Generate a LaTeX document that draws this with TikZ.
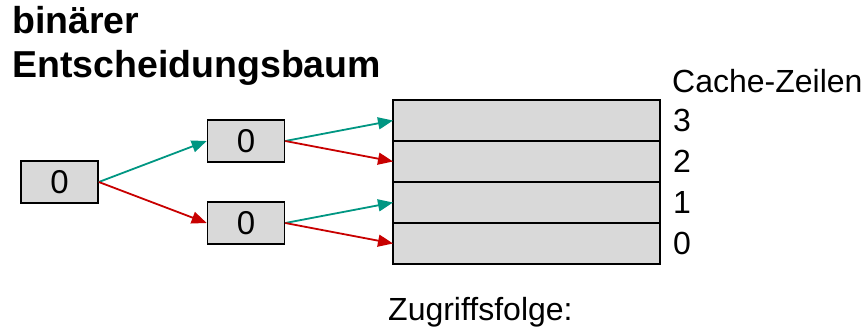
\documentclass[tikz,border=0pt]{standalone}
\usepackage{fontspec}
\setmainfont{Liberation Sans}
\usepackage{tikz}
\usetikzlibrary{arrows.meta,positioning}
\usepackage{xcolor}
\definecolor{dtteal}{RGB}{0,150,130}
\definecolor{dtred}{RGB}{200,0,0}
\definecolor{dtgrey}{RGB}{217,217,217}
\tikzstyle{bit} = [rectangle, minimum width=77pt, minimum height=42pt, inner sep=0pt, text centered, draw=black, fill=dtgrey, line width=1.6pt, font=\fontsize{33}{33}\selectfont]
\tikzstyle{cacheline} = [rectangle, minimum width=267pt, minimum height=41pt, inner sep=0pt, outer sep=0pt, draw=black, fill=dtgrey, line width=1.6pt]
\tikzstyle{txt} = [inner sep=0pt, anchor=base west, font=\fontsize{32}{32}\selectfont]
\tikzstyle{title} = [inner sep=0pt, anchor=base west, font=\bfseries\fontsize{37.5}{37.5}\selectfont]
\tikzstyle{left0} = [line width=1.8pt,-{Triangle[length=15pt,width=12pt]},color=dtteal]
\tikzstyle{right1} = [line width=1.8pt,-{Triangle[length=15pt,width=12pt]},color=dtred]

\begin{document}
\begin{tikzpicture}[x=1pt, y=-1pt]
\useasboundingbox (0,0) rectangle (866,327);
% Heading
\node (head1) [title] at (12,33) {binärer};
\node (head2) [title] at (12,77) {Entscheidungsbaum};

% Decision tree
\node (root) [bit] at (59.5,182) {0};
\node (upper) [bit] at (246,141) {0};
\node (lower) [bit] at (246,223) {0};

% Cache lines 3..0
\node (line3) [cacheline] at (526.5,120.5) {};
\node (line2) [cacheline, below=0pt of line3] {};
\node (line1) [cacheline, below=0pt of line2] {};
\node (line0) [cacheline, below=0pt of line1] {};

% Labels
\node (lines) [txt] at (672,92) {Cache-Zeilen};
\node (num3) [txt, right=13pt of line3] {3};
\node (num2) [txt, right=13pt of line2] {2};
\node (num1) [txt, right=13pt of line1] {1};
\node (num0) [txt, right=13pt of line0] {0};
\node (seq) [txt] at (388,320) {Zugriffsfolge:};

% Branches
\draw[left0] (root.east) -- (upper.west);
\draw[right1] (root.east) -- (lower.west);
\draw[left0] (upper.east) -- (line3.west);
\draw[right1] (upper.east) -- (line2.west);
\draw[left0] (lower.east) -- (line1.west);
\draw[right1] (lower.east) -- (line0.west);
\end{tikzpicture}
\end{document}
